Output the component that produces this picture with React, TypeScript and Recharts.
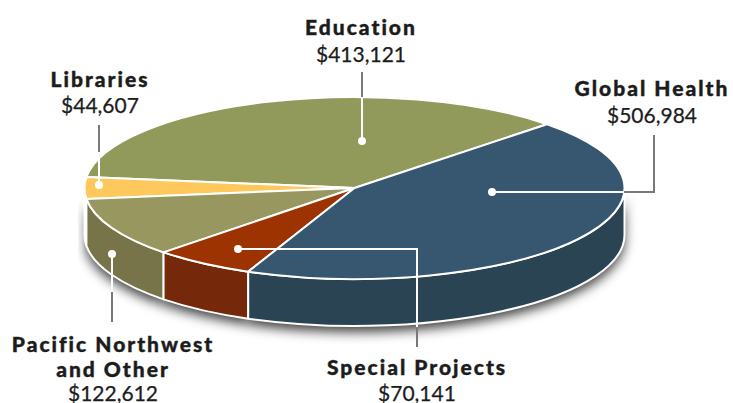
import { PieChart, Pie } from 'recharts';

const categories = ['Education', 'Libraries', 'Pacific Northwest and Other', 'Special Projects', 'Global Health'];
const amounts = [413121, 44607, 122612, 70141, 506984];
const labelLines = [['Education'], ['Libraries'], ['Pacific Northwest', 'and Other'], ['Special Projects'], ['Global Health']];
const topColors = ['#929A5B', '#FFC85C', '#97975F', '#9C3300', '#37566F'];
const sideColors = ['#77744A', '#D9A548', '#77744A', '#76280A', '#2B4454'];

const data = categories.map((name, i) => ({
  name,
  value: amounts[i],
  fill: topColors[i],
  side: sideColors[i],
}));

const WIDTH = 733;
const HEIGHT = 403;
const CX = 354.5;
const CY = 188;
const RX = 270;
const RY = 91;
const DEPTH = 47;
const START = 44.5;

// label anchor, text baselines and the white/grey leader runs for each slice
const callouts = [
  { x: 361, y: [35, 62], dot: [362, 141], white: [[362, 141], [362, 97]], grey: [[362, 97], [362, 72]] },
  { x: 100, y: [87, 113], dot: [99, 185], white: [[99, 185], [99, 152]], grey: [[99, 152], [99, 125]] },
  { x: 113, y: [352, 377, 401], dot: [112, 254], white: [[112, 254], [112, 292]], grey: [[112, 292], [112, 322]] },
  { x: 417, y: [375, 401], dot: [238, 249], white: [[238, 249], [417, 249], [417, 327]], grey: [[417, 327], [417, 347]] },
  { x: 652, y: [96, 123], dot: [492, 192], white: [[492, 192], [624, 192]], grey: [[624, 192], [654, 192], [654, 135]] },
];

const px = (angle: number) => CX + RX * Math.cos((angle * Math.PI) / 180);
const py = (angle: number) => CY - RY * Math.sin((angle * Math.PI) / 180);

// rim of the disc, only the part of a slice that faces the viewer
function sidePath(startAngle: number, endAngle: number) {
  const parts: string[] = [];
  [[180, 360], [540, 720]].forEach(([a, b]) => {
    const lo = Math.max(startAngle, a);
    const hi = Math.min(endAngle, b);
    if (hi <= lo) return;
    parts.push(
      `M${px(lo)},${py(lo)} A${RX},${RY} 0 0 0 ${px(hi)},${py(hi)} ` +
        `L${px(hi)},${py(hi) + DEPTH} A${RX},${RY} 0 0 1 ${px(lo)},${py(lo) + DEPTH} Z`,
    );
  });
  return parts.join(' ');
}

function ShadowShape(props: any) {
  return <path d={sidePath(props.startAngle, props.endAngle)} transform="translate(0,6)" fill="#000" fillOpacity={0.75} filter="url(#rimShadow)" />;
}

function SideShape(props: any) {
  return <path d={sidePath(props.startAngle, props.endAngle)} fill={props.side} stroke="#fff" strokeWidth={2} strokeLinejoin="round" />;
}

function TopShape(props: any) {
  const { startAngle, endAngle, fill } = props;
  const large = endAngle - startAngle > 180 ? 1 : 0;
  const d = `M${CX},${CY} L${px(startAngle)},${py(startAngle)} A${RX},${RY} 0 ${large} 0 ${px(endAngle)},${py(endAngle)} Z`;
  return <path d={d} fill={fill} stroke="#fff" strokeWidth={2} strokeLinejoin="round" />;
}

function Callout(props: any) {
  const { index, value } = props;
  const c = callouts[index];
  const lines = labelLines[index];
  const toPoints = (run: number[][]) => run.map((p) => p.join(',')).join(' ');
  return (
    <g>
      <polyline points={toPoints(c.grey)} fill="none" stroke="#77797B" strokeWidth={2} />
      <polyline points={toPoints(c.white)} fill="none" stroke="#fff" strokeWidth={2} />
      <circle cx={c.dot[0]} cy={c.dot[1]} r={4} fill="#fff" />
      <g textAnchor="middle" fontFamily="Lato" fontSize={21} fill="#1c1c1c">
        {lines.map((line, i) => (
          <text key={line} x={c.x} y={c.y[i]} fontWeight={900} letterSpacing={2} stroke="#1c1c1c" strokeWidth={0.4}>
            {line}
          </text>
        ))}
        <text x={c.x} y={c.y[lines.length]} fontWeight={400} stroke="#1c1c1c" strokeWidth={0.25}>
          {`$${value.toLocaleString('en-US')}`}
        </text>
      </g>
    </g>
  );
}

export default function App() {
  const pieProps = {
    data,
    dataKey: 'value',
    nameKey: 'name',
    cx: CX,
    cy: CY,
    outerRadius: RX,
    startAngle: START,
    endAngle: START + 360,
    isAnimationActive: false,
    rootTabIndex: -1,
  };
  return (
    <div style={{ position: 'absolute', left: 0, top: 0, width: WIDTH, height: HEIGHT, overflow: 'hidden' }}>
      <PieChart width={WIDTH} height={HEIGHT} margin={{ top: 0, right: 0, bottom: 0, left: 0 }}>
        <defs>
          <filter id="rimShadow" x="-10%" y="-30%" width="120%" height="170%">
            <feGaussianBlur stdDeviation={6} />
          </filter>
        </defs>
        <Pie {...pieProps} shape={ShadowShape} />
        <Pie {...pieProps} shape={SideShape} />
        <Pie {...pieProps} shape={TopShape} label={Callout} labelLine={false} />
      </PieChart>
    </div>
  );
}
